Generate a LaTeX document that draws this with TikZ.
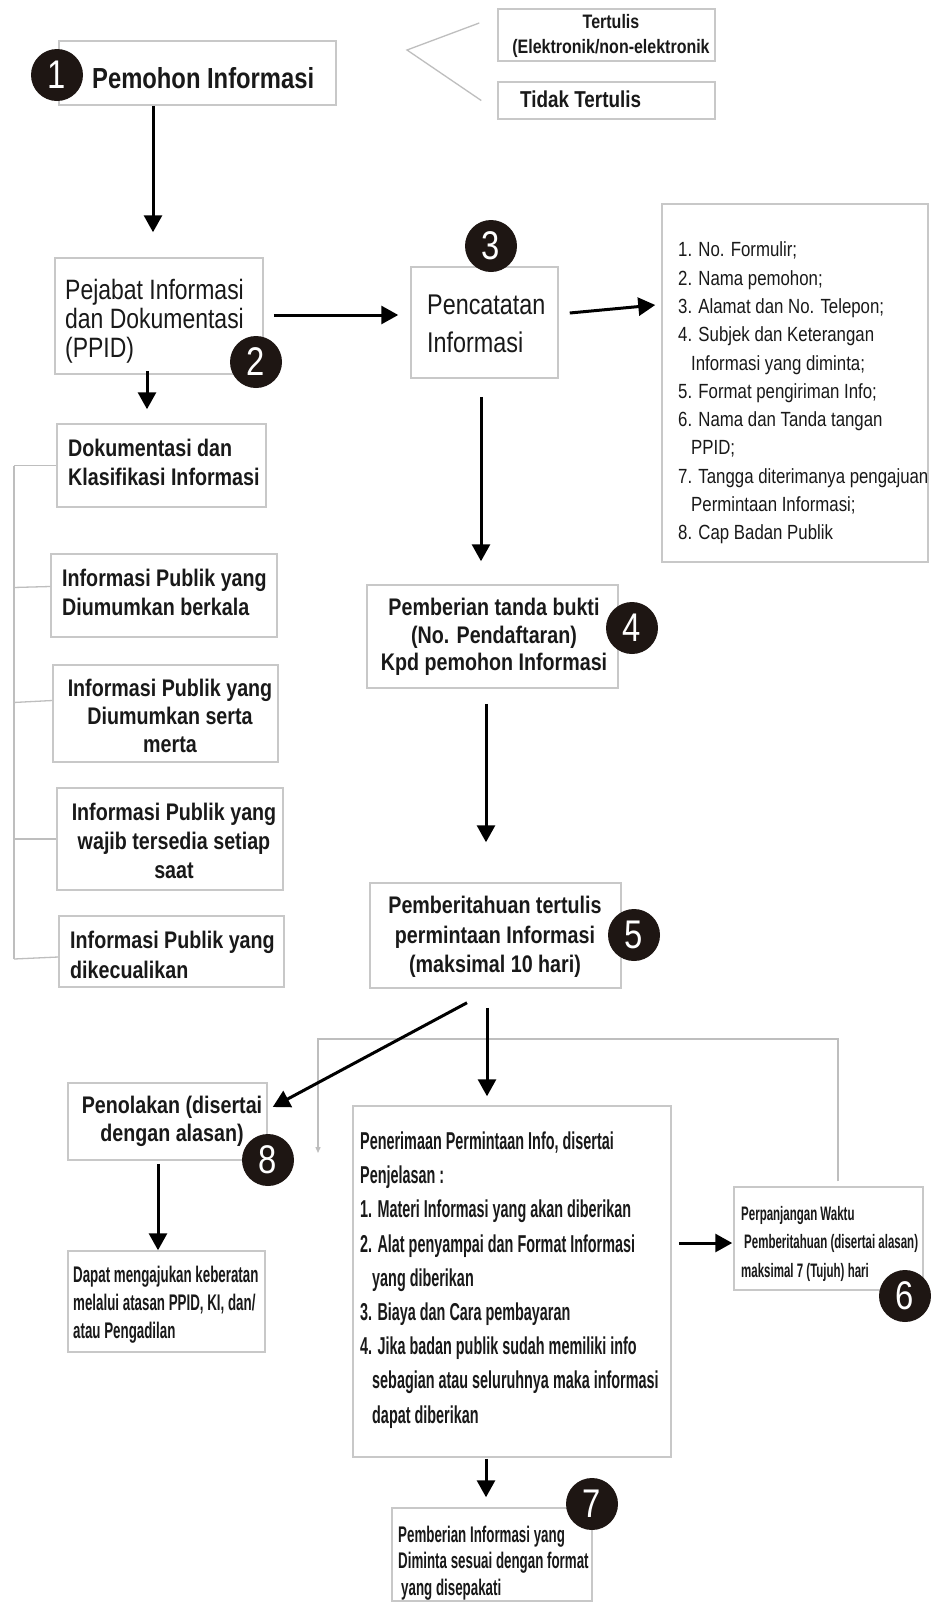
\documentclass[tikz,border=0pt]{standalone}
\usepackage{fontspec}
\setmainfont{Liberation Sans}[FakeStretch=0.82]
\newfontfamily\nf{Liberation Sans}[FakeStretch=0.82]
\newfontfamily\xf{Liberation Sans}[FakeStretch=0.59]
\usetikzlibrary{arrows.meta,calc}
\definecolor{boxgray}{HTML}{C8C8C8}
\definecolor{linegray}{HTML}{BEBEBE}
\definecolor{dotfill}{HTML}{1E1613}
\newcommand{\fs}[2]{\fontsize{#1}{#2}\selectfont}
\begin{document}
\begin{tikzpicture}[x=1pt,y=-1pt,
  box/.style={draw=boxgray, line width=1.5pt, fill=white, inner sep=0pt},
  txt/.style={inner sep=0pt, align=left, anchor=west, text=black!90},
  ctxt/.style={inner sep=0pt, align=center, text=black!90},
  num/.style={circle, fill=dotfill, text=white, minimum size=52pt, inner sep=0pt, font=\nf\fs{40}{40}},
  arr/.style={line width=3pt, -{Triangle[length=17pt,width=18pt]}},
  gline/.style={draw=linegray, line width=1.3pt}]
\useasboundingbox (0,0) rectangle (930,1607);
\fill[white] (0,0) rectangle (930,1607);

% boxes
\node[box, minimum width=277pt, minimum height=64pt] (pemohon) at (197.5,73) {};
\node[box, minimum width=217pt, minimum height=52pt] (tert) at (606.5,35) {};
\node[box, minimum width=217pt, minimum height=37pt] (tidak) at (606.5,100.5) {};
\node[box, minimum width=208pt, minimum height=116pt] (pejabat) at (159,316) {};
\node[box, minimum width=147pt, minimum height=111pt] (pencat) at (484.5,322.5) {};
\node[box, minimum width=266pt, minimum height=358pt] (list) at (795,383) {};
\node[box, minimum width=209pt, minimum height=83pt] (dok) at (161.5,465.5) {};
\node[box, minimum width=226pt, minimum height=83pt] (berk) at (164,595.5) {};
\node[box, minimum width=225pt, minimum height=97pt] (serta) at (165.5,713.5) {};
\node[box, minimum width=226pt, minimum height=102pt] (wajib) at (170,839) {};
\node[box, minimum width=225pt, minimum height=71pt] (dik) at (171.5,951.5) {};
\node[box, minimum width=251pt, minimum height=103pt] (b4) at (492.5,636.5) {};
\node[box, minimum width=251pt, minimum height=105pt] (b5) at (495.5,935.5) {};
\node[box, minimum width=199pt, minimum height=77pt] (penol) at (167.5,1121.5) {};
\node[box, minimum width=197pt, minimum height=101pt] (dapat) at (166.5,1301.5) {};
\node[box, minimum width=318pt, minimum height=351pt] (pener) at (512,1281.5) {};
\node[box, minimum width=189pt, minimum height=103pt] (perp) at (828.5,1238.5) {};
\node[box, minimum width=200pt, minimum height=93pt] (pemb) at (492,1554.5) {};

% texts
\node[txt, font=\nf\bfseries\fs{29}{30}] (pemohonT) at (92,78) {Pemohon Informasi};
\node[ctxt, font=\nf\bfseries\fs{19.5}{25}] (tertT) at (611,35.5) {Tertulis\\(Elektronik/non-elektronik};
\node[txt, font=\nf\bfseries\fs{23}{25}] (tidakT) at (520,99) {Tidak Tertulis};
\node[txt, font=\nf\fs{28}{29}] (pejabatT) at (65,321) {Pejabat Informasi\\dan Dokumentasi\\(PPID)};
\node[txt, font=\nf\fs{28.5}{37.5}] (pencatT) at (427,324) {Pencatatan\\Informasi};
\node[txt, font=\nf\fs{20.5}{28.3}] (listT) at (678,393) {1. No. Formulir;\\2. Nama pemohon;\\3. Alamat dan No. Telepon;\\4. Subjek dan Keterangan\\\hspace*{13pt}Informasi yang diminta;\\5. Format pengiriman Info;\\6. Nama dan Tanda tangan\\\hspace*{13pt}PPID;\\7. Tangga diterimanya pengajuan\\\hspace*{13pt}Permintaan Informasi;\\8. Cap Badan Publik};
\node[txt, font=\nf\bfseries\fs{24}{29}] (dokT) at (68,462.5) {Dokumentasi dan\\Klasifikasi Informasi};
\node[txt, font=\nf\bfseries\fs{24}{29}] (berkT) at (62,592.5) {Informasi Publik yang\\Diumumkan berkala};
\node[ctxt, font=\nf\bfseries\fs{24}{28}] (sertaT) at (170,716) {Informasi Publik yang\\Diumumkan serta\\merta};
\node[ctxt, font=\nf\bfseries\fs{24}{29}] (wajibT) at (174,841) {Informasi Publik yang\\wajib tersedia setiap\\saat};
\node[txt, font=\nf\bfseries\fs{24}{30}] (dikT) at (70,955) {Informasi Publik yang\\dikecualikan};
\node[ctxt, font=\nf\bfseries\fs{24}{27.5}] (b4T) at (494,637) {Pemberian tanda bukti\\(No. Pendaftaran)\\Kpd pemohon Informasi};
\node[ctxt, font=\nf\bfseries\fs{24}{29.5}] (b5T) at (495,937) {Pemberitahuan tertulis\\permintaan Informasi\\(maksimal 10 hari)};
\node[ctxt, font=\nf\bfseries\fs{24}{28}] (penolT) at (172,1121) {Penolakan (disertai\\dengan alasan)};
\node[txt, font=\xf\bfseries\fs{22.6}{28}] (dapatT) at (73,1305) {Dapat mengajukan keberatan\\melalui atasan PPID, KI, dan/\\atau Pengadilan};
\node[txt, font=\xf\bfseries\fs{24.4}{34.2}] (penerT) at (360,1280) {Penerimaan Permintaan Info, disertai\\Penjelasan :\\1. Materi Informasi yang akan diberikan\\2. Alat penyampai dan Format Informasi\\\hspace*{12pt}yang diberikan\\3. Biaya dan Cara pembayaran\\4. Jika badan publik sudah memiliki info\\\hspace*{12pt}sebagian atau seluruhnya maka informasi\\\hspace*{12pt}dapat diberikan};
\node[txt, font=\xf\bfseries\fs{19.5}{28.5}] (perpT) at (741,1243.5) {Perpanjangan Waktu\\\hspace*{3pt}Pemberitahuan (disertai alasan)\\maksimal 7 (Tujuh) hari};
\node[txt, font=\xf\bfseries\fs{22.6}{26.5}] (pembT) at (398,1563) {Pemberian Informasi yang\\Diminta sesuai dengan format\\\hspace*{3pt}yang disepakati};

% grey connectors
\coordinate (t2) at (407,50);
\draw[gline] ([shift={(-18,-12)}]tert.west) -- (t2) -- ([shift={(-16,0)}]tidak.west);
\coordinate (bt) at (14,466);
\coordinate (bb) at (14,959);
\draw[gline] (dok.west -| bt) -- (bb);
\draw[gline] (dok.west) -- (dok.west -| bt);
\draw[gline] ([yshift=9pt]berk.west) -- ++(-37,1);
\draw[gline] ([yshift=13pt]serta.west) -- ++(-39,2);
\draw[gline] (wajib.west) -- ++(-43,0);
\draw[gline] ([yshift=-5.5pt]dik.west) -- (bb);
\coordinate (fb1) at (838,1039);
\coordinate (fb2) at (318,1039);
\coordinate (fb3) at (318,1153);
\draw[gline, shorten <=5pt, -{Triangle[length=6pt,width=5pt]}] (perp.north -| fb1) -- (fb1) -- (fb2) -- (fb3);

% arrows
\coordinate (c1) at (153,0);
\draw[arr, shorten >=25pt] (pemohon.south -| c1) -- (pejabat.north -| c1);
\coordinate (c2) at (147,0);
\draw[arr, shorten <=-4pt, shorten >=14pt] (pejabat.south -| c2) -- (dok.north -| c2);
\coordinate (r1) at (0,315);
\draw[arr, shorten <=10pt, shorten >=12pt] (pejabat.east |- r1) -- (pencat.west |- r1);
\draw[arr] ([shift={(11,-9.5)}]pencat.east) -- ([shift={(-6,-78)}]list.west);
\coordinate (c3) at (481,0);
\draw[arr, shorten <=18pt, shorten >=23pt] (pencat.south -| c3) -- (b4.north -| c3);
\coordinate (c4) at (486,0);
\draw[arr, shorten <=15pt, shorten >=40pt] (b4.south -| c4) -- (b5.north -| c4);
\draw[arr] ([shift={(-28.5,14)}]b5.south) -- ([shift={(5,-14.5)}]penol.east);
\coordinate (c5) at (487,0);
\draw[arr, shorten <=19pt, shorten >=9pt] (b5.south -| c5) -- (pener.north -| c5);
\coordinate (r2) at (0,1243);
\draw[arr, shorten <=7pt, shorten >=1pt] (pener.east |- r2) -- (perp.west |- r2);
\coordinate (c6) at (158,0);
\draw[arr, shorten <=3pt] (penol.south -| c6) -- (dapat.north -| c6);
\coordinate (c7) at (486,0);
\draw[arr, shorten <=1pt, shorten >=10pt] (pener.south -| c7) -- (pemb.north -| c7);

% number circles
\node[num] (n1) at (57,75) {1};
\node[num] (n2) at (256,362) {2};
\node[num] (n3) at (491,246) {3};
\node[num] (n4) at (632,628) {4};
\node[num] (n5) at (634,935) {5};
\node[num] (n6) at (905,1296) {6};
\node[num] (n7) at (592,1504) {7};
\node[num] (n8) at (268,1160) {8};
\end{tikzpicture}
\end{document}
